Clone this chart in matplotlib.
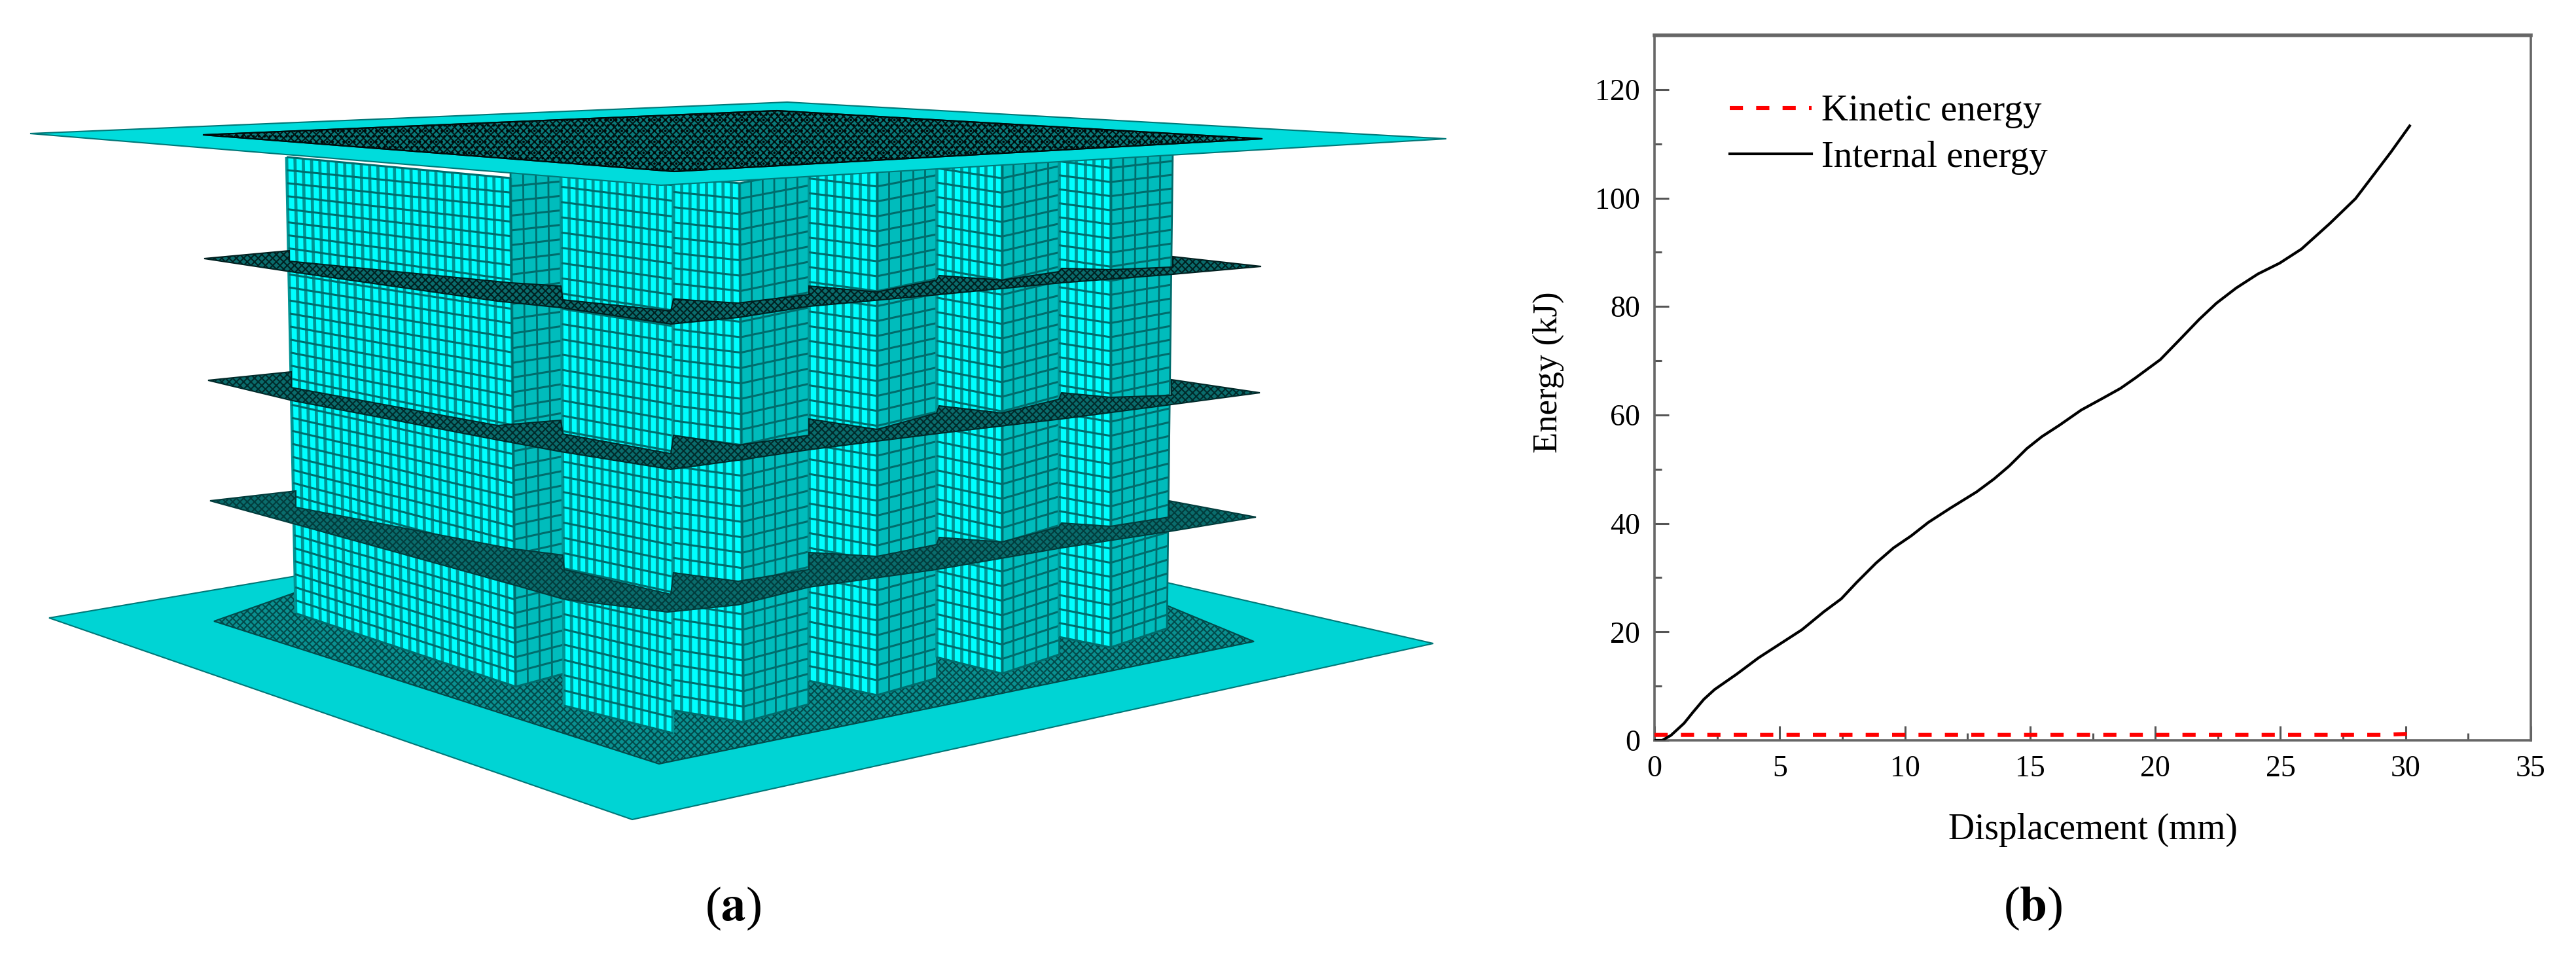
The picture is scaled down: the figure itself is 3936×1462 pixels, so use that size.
import matplotlib
matplotlib.use('Agg')
import matplotlib.pyplot as plt
import numpy as np
from matplotlib.collections import LineCollection
from matplotlib.patches import Polygon

plt.rcParams['font.family'] = ['Liberation Serif', 'DejaVu Serif']
plt.rcParams['hatch.linewidth'] = 1.5

# energy curves
disp_internal = [0.0, 0.31, 0.66, 1.18, 1.53, 1.97, 2.40, 3.28, 4.15, 5.02, 5.89, 6.76, 7.46,
                 8.07, 8.85, 9.55, 10.25, 10.94, 11.81, 12.86, 13.56, 14.17, 14.87, 15.47,
                 16.17, 17.04, 17.91, 18.61, 19.2, 20.2, 21.0, 21.75, 22.44, 23.23, 24.1,
                 24.97, 25.84, 26.97, 28.0, 29.4, 30.16]
internal_energy = [0.0, 0.0, 0.93, 3.14, 5.15, 7.56, 9.37, 12.2, 15.2, 17.8, 20.4, 23.7, 26.1,
                   29.1, 32.7, 35.5, 37.7, 40.2, 42.8, 45.8, 48.2, 50.6, 53.8, 56.0,
                   58.1, 60.9, 63.1, 64.9, 66.8, 70.2, 74.0, 77.6, 80.6, 83.4, 86.0,
                   88.0, 90.6, 95.3, 99.9, 108.4, 113.3]
disp_kinetic = [0.0, 5.0, 10.0, 15.0, 20.0, 25.0, 29.0, 30.1]
kinetic_energy = [1.0, 1.0, 1.0, 1.0, 1.0, 1.0, 1.0, 1.2]

x_ticks = [0, 5, 10, 15, 20, 25, 30, 35]
y_ticks = [0, 20, 40, 60, 80, 100, 120]

# mesh model of panel (a), in image pixels
top_plate = [(46, 204), (1203, 156), (2210, 212), (1010, 283)]
top_mesh = [(310, 206), (1187, 169), (1929, 212), (1030, 262)]
base_plate = [(75, 944), (452, 880), (1783, 890), (2190, 983), (966, 1252)]
base_mesh = [(327, 949), (452, 905), (1783, 925), (1916, 980), (1007, 1167)]
# each wall: top left, top right, bottom right, bottom left, columns, bright
walls = [
    ((438, 240), (780, 272), (788, 1049), (452, 937), 27, True),
    ((780, 262), (857, 255), (862, 1029), (788, 1049), 4, False),
    ((857, 262), (1029, 283), (1028, 1120), (862, 1078), 14, True),
    ((1029, 270), (1130, 280), (1136, 1103), (1028, 1085), 8, True),
    ((1130, 280), (1236, 260), (1235, 1076), (1136, 1103), 6, False),
    ((1236, 250), (1340, 262), (1340, 1062), (1236, 1040), 8, True),
    ((1340, 262), (1431, 245), (1431, 1036), (1340, 1062), 5, False),
    ((1431, 235), (1531, 250), (1531, 1029), (1431, 1004), 8, True),
    ((1531, 250), (1618, 232), (1618, 1000), (1531, 1029), 5, False),
    ((1618, 225), (1697, 235), (1697, 989), (1618, 973), 6, True),
    ((1697, 235), (1792, 225), (1783, 960), (1697, 989), 5, False),
]
# plates between the walls, going round: left tip, upper zigzag, right tip, lower edge
mid_plates = [
    [(312, 395), (442, 383), (442, 399), (780, 432), (857, 437), (860, 458), (1025, 475),
     (1029, 457), (1128, 463), (1236, 450), (1236, 437), (1340, 446), (1431, 428), (1435, 421),
     (1531, 428), (1618, 415), (1622, 410), (1697, 412), (1792, 408), (1792, 392), (1927, 407),
     (1792, 419), (1622, 432), (1435, 450), (1236, 468), (1128, 485), (1025, 495), (857, 470),
     (760, 460), (444, 415)],
    [(318, 581), (445, 568), (445, 592), (760, 650), (857, 642), (860, 663), (1025, 693),
     (1029, 665), (1128, 680), (1236, 665), (1236, 640), (1340, 656), (1431, 631), (1435, 620),
     (1531, 631), (1618, 610), (1622, 600), (1697, 607), (1790, 604), (1790, 580), (1925, 600),
     (1790, 618), (1622, 640), (1435, 662), (1236, 687), (1128, 703), (1025, 717), (857, 690),
     (760, 672), (447, 612)],
    [(321, 765), (452, 750), (452, 775), (780, 838), (860, 848), (862, 870), (1025, 908),
     (1029, 875), (1128, 888), (1236, 870), (1236, 844), (1340, 850), (1431, 832), (1435, 821),
     (1531, 828), (1618, 805), (1622, 799), (1697, 804), (1786, 790), (1786, 765), (1919, 790),
     (1786, 812), (1622, 837), (1431, 870), (1236, 897), (1128, 924), (1020, 935), (860, 915),
     (780, 892), (452, 801)],
]
plate_tones = ['#012020', '#012a2a', '#023c3c']

BRIGHT_LINE = '#009494'
DARK_LINE = '#006c6c'

fig = plt.figure(figsize=(39.36, 14.62), dpi=100, facecolor='white')

# panel (a)
ax_mesh = fig.add_axes([0, 0, 1, 1])
ax_mesh.set_xlim(0, 3936)
ax_mesh.set_ylim(1462, 0)
ax_mesh.axis('off')


def plate(points, face, hatch=None, hatch_color='#012a2a', z=1):
    ax_mesh.add_patch(Polygon(points, closed=True, facecolor=face, edgecolor=hatch_color,
                              hatch=hatch, lw=1.5, zorder=z))


def wall(tl, tr, br, bl, cols, bright, rows=35):
    tl, tr, br, bl = map(np.array, (tl, tr, br, bl))
    fill = '#00ffff' if bright else '#00bcbc'
    ax_mesh.add_patch(Polygon([tl, tr, br, bl], closed=True, facecolor=fill,
                              edgecolor='none', zorder=3))
    upright = [[tl + (tr - tl) * i / cols, bl + (br - bl) * i / cols] for i in range(cols + 1)]
    across = [[tl + (bl - tl) * j / rows, tr + (br - tr) * j / rows] for j in range(rows + 1)]
    ax_mesh.add_collection(LineCollection(upright, colors=BRIGHT_LINE if bright else DARK_LINE,
                                          linewidths=3.4 if bright else 2.0, zorder=4))
    ax_mesh.add_collection(LineCollection(across, colors=DARK_LINE, linewidths=2.2, zorder=4))


plate(base_plate, '#00d4d4', hatch_color='#007878')
plate(base_mesh, '#0a9090', hatch='xxx', hatch_color='#024a4a', z=2)
for w in walls:
    wall(*w)
for pts, tone in zip(mid_plates, plate_tones):
    plate(pts, '#0a6c6c', hatch='xxx', hatch_color=tone, z=5)
plate(top_plate, '#00dcdc', hatch_color='#007878', z=6)
plate(top_mesh, '#0a7a7a', hatch='xxx', hatch_color='#001414', z=7)
plate(top_mesh, 'none', hatch='..', hatch_color='#000a0a', z=8)

ax_mesh.text(1120, 1388, r'($\mathbf{a}$)', fontsize=54, ha='center', va='center',
             math_fontfamily='stix')
ax_mesh.text(3106, 1388, r'($\mathbf{b}$)', fontsize=54, ha='center', va='center',
             math_fontfamily='stix')

# panel (b)
ax = fig.add_axes([2528 / 3936, 1 - 1131 / 1462, (3867 - 2528) / 3936, (1131 - 54) / 1462])
ax.plot(disp_kinetic, kinetic_energy, color='#ff0000', lw=4.4, ls=(0, (3.3, 3.3)),
        label='Kinetic energy', zorder=3)
ax.plot(disp_internal, internal_energy, color='black', lw=3, label='Internal energy', zorder=3)
ax.set_xlim(0, 35)
ax.set_ylim(0, 130)
ax.set_xticks(x_ticks)
ax.set_yticks(y_ticks)
ax.set_xticks(np.arange(2.5, 35, 5), minor=True)
ax.set_yticks(np.arange(10, 130, 20), minor=True)
ax.tick_params(which='major', direction='in', length=16, width=2.2, labelsize=33, pad=16,
               color='#555555')
ax.tick_params(which='minor', direction='in', length=8, width=2.2, color='#555555')
for side in ax.spines.values():
    side.set_linewidth(2.6)
    side.set_color('#666666')
ax.spines['top'].set_linewidth(4)
ax.set_xlabel('Displacement (mm)', fontsize=40, labelpad=33)
ax.set_ylabel('Energy (kJ)', fontsize=38, labelpad=34, y=0.522)
ax.legend(loc='upper left', bbox_to_anchor=(0.086, 0.916), frameon=False, fontsize=41,
          handlelength=2.2, handletextpad=0.25, labelspacing=0.33, borderpad=0, borderaxespad=0)

fig.savefig('out.png', dpi=100)
